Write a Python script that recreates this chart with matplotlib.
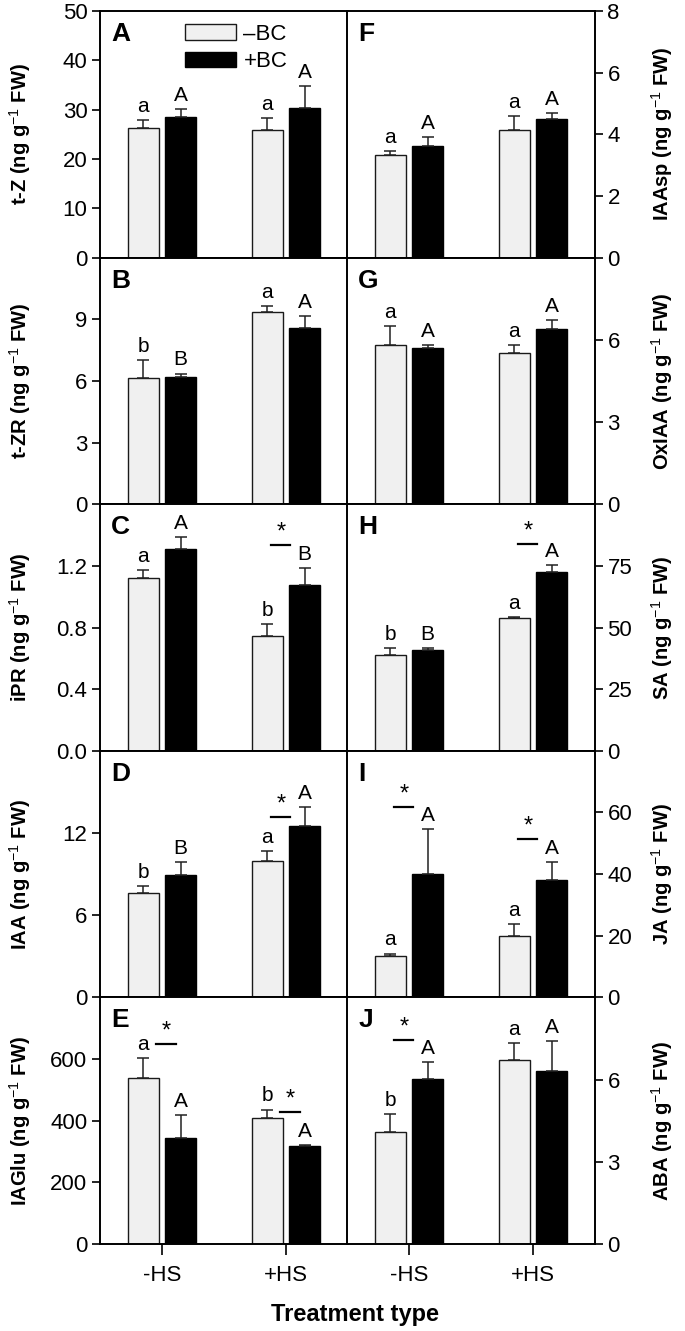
import matplotlib
matplotlib.use("Agg")
import matplotlib.pyplot as plt
from matplotlib.patches import Patch
import numpy as np

plt.rcParams['font.family'] = ['Liberation Sans', 'DejaVu Sans']
plt.rcParams['mathtext.fontset'] = 'custom'
plt.rcParams['mathtext.rm'] = 'Liberation Sans'
plt.rcParams['mathtext.it'] = 'Liberation Sans:italic'
plt.rcParams['mathtext.bf'] = 'Liberation Sans:bold'

# ---------------- data ----------------
groups = ['-HS', '+HS']
series = ['\u2013BC', '+BC']

panel_ids = ['A', 'B', 'C', 'D', 'E', 'F', 'G', 'H', 'I', 'J']
ylabels = ['t-Z', 't-ZR', 'iPR', 'IAA', 'IAGlu', 'IAAsp', 'OxIAA', 'SA', 'JA', 'ABA']

minus_bc = {
    'A': [26.3, 25.8], 'B': [6.13, 9.37], 'C': [1.123, 0.748], 'D': [7.62, 9.98],
    'E': [538, 408], 'F': [3.32, 4.13], 'G': [5.81, 5.52], 'H': [38.7, 53.9],
    'I': [13.5, 19.8], 'J': [4.10, 6.72],
}
minus_err = {
    'A': [1.5, 2.5], 'B': [0.89, 0.29], 'C': [0.047, 0.073], 'D': [0.53, 0.71],
    'E': [65, 28], 'F': [0.14, 0.46], 'G': [0.69, 0.29], 'H': [3.1, 0.3],
    'I': [0.7, 4.1], 'J': [0.65, 0.61],
}
plus_bc = {
    'A': [28.5, 30.4], 'B': [6.2, 8.57], 'C': [1.308, 1.078], 'D': [8.93, 12.49],
    'E': [343, 319], 'F': [3.62, 4.49], 'G': [5.69, 6.38], 'H': [40.8, 72.4],
    'I': [40.0, 38.0], 'J': [6.02, 6.33],
}
plus_err = {
    'A': [1.6, 4.4], 'B': [0.16, 0.58], 'C': [0.08, 0.107], 'D': [0.95, 1.38],
    'E': [75, 3], 'F': [0.28, 0.21], 'G': [0.11, 0.33], 'H': [0.9, 2.9],
    'I': [14.6, 5.8], 'J': [0.61, 1.09],
}
minus_letters = {
    'A': ['a', 'a'], 'B': ['b', 'a'], 'C': ['a', 'b'], 'D': ['b', 'a'], 'E': ['a', 'b'],
    'F': ['a', 'a'], 'G': ['a', 'a'], 'H': ['b', 'a'], 'I': ['a', 'a'], 'J': ['b', 'a'],
}
plus_letters = {
    'A': ['A', 'A'], 'B': ['B', 'A'], 'C': ['A', 'B'], 'D': ['B', 'A'], 'E': ['A', 'A'],
    'F': ['A', 'A'], 'G': ['A', 'A'], 'H': ['B', 'A'], 'I': ['A', 'A'], 'J': ['A', 'A'],
}
# significance marks: panel -> list of (group index, level of the bar line, side)
stars = {
    'C': [(1, 1.336, 'left')],
    'D': [(1, 13.14, 'left')],
    'E': [(0, 650, 'right'), (1, 428, 'right')],
    'H': [(1, 84, 'left')],
    'I': [(0, 61.8, 'left'), (1, 51.3, 'left')],
    'J': [(0, 7.44, 'left')],
}
ylims = {'A': 50, 'B': 12, 'C': 1.6, 'D': 18, 'E': 800,
         'F': 8, 'G': 9, 'H': 100, 'I': 80, 'J': 9}
yticks = {
    'A': [0, 10, 20, 30, 40, 50], 'B': [0, 3, 6, 9], 'C': [0.0, 0.4, 0.8, 1.2],
    'D': [0, 6, 12], 'E': [0, 200, 400, 600], 'F': [0, 2, 4, 6, 8], 'G': [0, 3, 6],
    'H': [0, 25, 50, 75], 'I': [0, 20, 40, 60], 'J': [0, 3, 6],
}

# ---------------- layout ----------------
W, H = 685, 1331
fig = plt.figure(figsize=(W / 100, H / 100), dpi=100)

left_x, right_x, col_w = 100, 347, 248
top_y, row_h = 11, 246.6

light = '#f0f0f0'
edge = '#1a1a1a'
bw = 0.245
off = 0.15
x = np.arange(len(groups))

for i, pid in enumerate(panel_ids):
    col = i // 5
    row = i % 5
    x0 = (left_x if col == 0 else right_x) / W
    y0 = 1 - (top_y + (row + 1) * row_h) / H
    ax = fig.add_axes([x0, y0, col_w / W, row_h / H])

    m = np.array(minus_bc[pid]); me = np.array(minus_err[pid])
    p = np.array(plus_bc[pid]); pe = np.array(plus_err[pid])

    ax.bar(x - off, m, bw, color=light, edgecolor=edge, linewidth=1.0, zorder=2)
    ax.bar(x + off, p, bw, color='black', edgecolor='black', linewidth=1.0, zorder=2)
    ax.errorbar(x - off, m, yerr=[np.zeros_like(me), me], fmt='none', ecolor='#222222',
                elinewidth=1.1, capsize=4, capthick=1.1, zorder=3)
    ax.errorbar(x + off, p, yerr=[np.zeros_like(pe), pe], fmt='none', ecolor='#222222',
                elinewidth=1.1, capsize=4, capthick=1.1, zorder=3)

    for g in range(len(groups)):
        ax.annotate(minus_letters[pid][g], (x[g] - off, m[g] + me[g]), xytext=(0, 3),
                    textcoords='offset points', ha='center', va='bottom', fontsize=15)
        ax.annotate(plus_letters[pid][g], (x[g] + off, p[g] + pe[g]), xytext=(0, 3),
                    textcoords='offset points', ha='center', va='bottom', fontsize=15)

    for (g, lev, side) in stars.get(pid, []):
        if side == 'left':
            xa, xb = x[g] - 0.118, x[g] + 0.035
        else:
            xa, xb = x[g] - 0.045, x[g] + 0.11
        ax.plot([xa, xb], [lev, lev], color='black', lw=1.6, zorder=3, clip_on=False)
        ax.annotate('*', ((xa + xb) / 2, lev), xytext=(0, 1), textcoords='offset points',
                    ha='center', va='bottom', fontsize=17)

    ax.set_xlim(-0.5, 1.5)
    ax.set_ylim(0, ylims[pid])
    ax.set_yticks(yticks[pid])
    if pid == 'C':
        ax.set_yticklabels(['%.1f' % v for v in yticks[pid]])

    for s in ax.spines.values():
        s.set_linewidth(1.4)

    if col == 1:
        ax.yaxis.tick_right()
        ax.yaxis.set_label_position('right')
    ax.tick_params(axis='y', direction='out', length=6, width=1.2, labelsize=16, pad=3)

    if row == 4:
        ax.set_xticks(x)
        ax.set_xticklabels(groups)
        ax.tick_params(axis='x', direction='out', length=8, width=1.2, labelsize=16, pad=7)
    else:
        ax.set_xticks([])

    ax.set_ylabel(ylabels[i] + ' (ng g$^{-1}$ FW)', fontsize=14.5, fontweight='bold')
    if col == 0:
        ax.yaxis.set_label_coords(-0.27, 0.5)
    else:
        ax.yaxis.set_label_coords(1.22, 0.5)

    ax.text(0.045, 0.955, pid, transform=ax.transAxes, ha='left', va='top',
            fontsize=19, fontweight='bold')

    if pid == 'A':
        handles = [Patch(facecolor=light, edgecolor=edge, linewidth=1.0),
                   Patch(facecolor='black', edgecolor='black')]
        ax.legend(handles, series, loc='upper left', bbox_to_anchor=(0.305, 0.985),
                  frameon=False, fontsize=16, handlelength=2.3, handleheight=0.7,
                  labelspacing=0.3, handletextpad=0.35, borderaxespad=0)

fig.text(355 / W, 1 - 1315 / H, 'Treatment type', ha='center', va='center',
         fontsize=17, fontweight='bold')

fig.savefig('out.png', dpi=100)
